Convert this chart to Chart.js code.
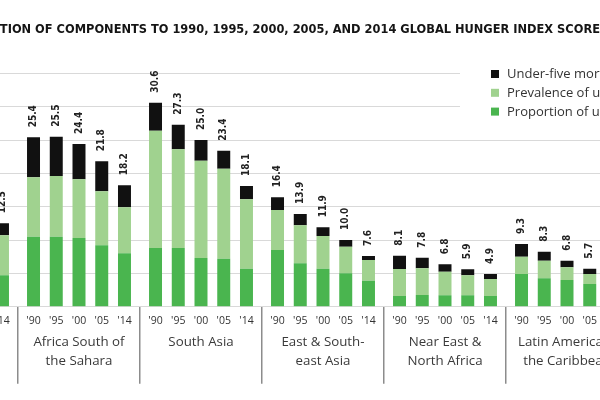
<!DOCTYPE html>
<html>
<head>
<meta charset="utf-8">
<script src="https://cdn.jsdelivr.net/npm/chart.js@4.4.1/dist/chart.umd.min.js"></script>
<style>
  html, body { margin: 0; padding: 0; background: #fff; }
  #frame { position: relative; width: 600px; height: 400px; overflow: hidden; }
  #wrap { position: absolute; top: 0; height: 400px; }
</style>
</head>
<body>
<div id="frame"><div id="wrap"><canvas id="chart"></canvas></div></div>
<script>
const regions = [
    ['Developing', 'world'],
    ['Africa South of', 'the Sahara'],
    ['South Asia'],
    ['East & South-', 'east Asia'],
    ['Near East &', 'North Africa'],
    ['Latin America &', 'the Caribbean']
];
const years = ["'90", "'95", "'00", "'05", "'14"];

// one row per region, one value per year ('90 ... '14)
const mortality = [
    [3.3, 3.0, 2.7, 2.4, 1.8],
    [6.0, 5.9, 5.3, 4.5, 3.3],
    [4.2, 3.7, 3.1, 2.7, 2.0],
    [1.9, 1.7, 1.3, 1.0, 0.6],
    [2.0, 1.6, 1.1, 0.9, 0.75],
    [1.9, 1.35, 1.0, 0.8, 0.6]
];
const underweight = [
    [9.3, 8.8, 8.1, 7.3, 6.0],
    [8.9, 9.1, 8.8, 8.1, 6.9],
    [17.6, 14.8, 14.6, 13.5, 10.4],
    [6.0, 5.7, 4.9, 4.0, 3.1],
    [4.05, 4.0, 3.55, 3.0, 2.55],
    [2.6, 2.65, 1.9, 1.5, 1.0]
];
const undernourished = [
    [8.0, 7.3, 6.4, 6.1, 4.7],
    [10.5, 10.5, 10.3, 9.2, 8.0],
    [8.8, 8.8, 7.3, 7.2, 5.7],
    [8.5, 6.5, 5.7, 5.0, 3.9],
    [1.6, 1.75, 1.7, 1.7, 1.6],
    [4.9, 4.25, 4.0, 3.4, 2.4]
];
// printed GHI scores above the bars
const scores = [
    [20.6, 19.1, 17.2, 15.8, 12.5],
    [25.4, 25.5, 24.4, 21.8, 18.2],
    [30.6, 27.3, 25.0, 23.4, 18.1],
    [16.4, 13.9, 11.9, 10.0, 7.6],
    [8.1, 7.8, 6.8, 5.9, 4.9],
    [9.3, 8.3, 6.8, 5.7, 4.0]
];

const components = [
    { label: 'Proportion of undernourished', values: undernourished, color: '#4ab54f' },
    { label: 'Prevalence of underweight in children', values: underweight, color: '#a0d28f' },
    { label: 'Under-five mortality rate', values: mortality, color: '#111111' }
];

const TITLE = 'FIGURE 2.2 CONTRIBUTION OF COMPONENTS TO 1990, 1995, 2000, 2005, AND 2014 GLOBAL HUNGER INDEX SCORES, BY REGION';
const TITLE_CUT = 'FIGURE 2.2 CONTRIBU';   // part of the title left of the crop
const TITLE_SIZE = 12.7;
const NARROW = '"DejaVu Sans Condensed", "DejaVu Sans", sans-serif';
const TEXT = '"Open Sans", "Noto Sans", sans-serif';

// the picture is a crop: the page shows the chart from inside its first group
const CHART_LEFT = -104;   // page x of the plot area's left edge
const CAT_WIDTH = 122;
const RIGHT_SPACE = 420;   // room so the full title is not squeezed

const measurer = document.createElement('canvas').getContext('2d');
measurer.font = 'bold ' + TITLE_SIZE + 'px ' + NARROW;
const cut = Math.round(measurer.measureText(TITLE_CUT).width);
const yAxisWidth = Math.max(cut + CHART_LEFT, 0);

const wrap = document.getElementById('wrap');
const cv = document.getElementById('chart');
const totalWidth = yAxisWidth + CAT_WIDTH * regions.length + RIGHT_SPACE;
const shift = CHART_LEFT - yAxisWidth;
wrap.style.left = shift + 'px';
wrap.style.width = totalWidth + 'px';
cv.width = totalWidth;
cv.height = 400;

const datasets = [];
years.forEach((yr, j) => {
    components.forEach((c, k) => {
        datasets.push({
            label: c.label,
            stack: yr,
            yearIndex: j,
            isTop: k === components.length - 1,
            data: c.values.map(row => row[j]),
            backgroundColor: c.color,
            borderWidth: 0
        });
    });
});

const px = x => x - shift;

const sideLegend = {
    id: 'sideLegend',
    beforeDatasetsDraw(chart) {
        const ctx = chart.ctx;
        ctx.save();
        ctx.fillStyle = '#ffffff';
        ctx.fillRect(px(460), 62, 300, 60);
        ctx.font = '13px ' + TEXT;
        ctx.textBaseline = 'middle';
        ctx.textAlign = 'left';
        components.slice().reverse().forEach((c, i) => {
            const y = 74 + i * 18.8;
            ctx.fillStyle = c.color;
            ctx.fillRect(px(491), y - 4, 8, 8);
            ctx.fillStyle = '#333333';
            ctx.fillText(c.label, px(507), y + 0.5);
        });
        ctx.restore();
    }
};

const barTexts = {
    id: 'barTexts',
    afterDatasetsDraw(chart) {
        const ctx = chart.ctx;
        const bottom = chart.chartArea.bottom;
        chart.data.datasets.forEach((ds, k) => {
            if (!ds.isTop) return;
            chart.getDatasetMeta(k).data.forEach((bar, i) => {
                ctx.save();
                ctx.font = 'bold 10px ' + NARROW;
                ctx.fillStyle = '#222222';
                ctx.textAlign = 'left';
                ctx.textBaseline = 'middle';
                ctx.translate(bar.x, bar.y - 10);
                ctx.rotate(-Math.PI / 2);
                ctx.fillText(scores[i][ds.yearIndex].toFixed(1), 0, 0);
                ctx.restore();

                ctx.save();
                ctx.font = '10.5px ' + TEXT;
                ctx.fillStyle = '#333333';
                ctx.textAlign = 'center';
                ctx.textBaseline = 'middle';
                ctx.fillText(years[ds.yearIndex], bar.x, bottom + 14);
                ctx.restore();
            });
        });
    }
};

new Chart(cv, {
    type: 'bar',
    data: {
        labels: regions,
        datasets: datasets
    },
    plugins: [sideLegend, barTexts],
    options: {
        responsive: false,
        animation: false,
        devicePixelRatio: 1,
        categoryPercentage: 0.932,
        barPercentage: 0.571,
        layout: { padding: 0 },
        plugins: {
            legend: { display: false },
            tooltip: { enabled: false },
            title: {
                display: true,
                text: TITLE,
                align: 'start',
                color: '#151515',
                font: { family: NARROW, size: TITLE_SIZE, weight: 'bold', lineHeight: 1.2 },
                padding: { top: 22.3, bottom: 35.8 }
            }
        },
        scales: {
            x: {
                stacked: true,
                grid: {
                    display: true,
                    drawOnChartArea: false,
                    offset: true,
                    tickLength: 77,
                    color: '#8c8c8c',
                    lineWidth: 1.5
                },
                border: { display: false },
                ticks: {
                    padding: -51,
                    color: '#3a3a3a',
                    maxRotation: 0,
                    autoSkip: false,
                    font: { family: TEXT, size: 13.3, lineHeight: 1.42 }
                },
                afterFit: s => { s.height = 93.3; }
            },
            y: {
                stacked: true,
                min: 0,
                max: 35,
                ticks: { display: false, stepSize: 5 },
                grid: { color: '#d9d9d9', drawTicks: false },
                border: { display: false },
                afterFit: s => { s.width = yAxisWidth; }
            },
            pad: {
                type: 'linear',
                position: 'right',
                grid: { display: false },
                ticks: { display: false },
                border: { display: false },
                afterFit: s => { s.width = RIGHT_SPACE; }
            }
        }
    }
});
</script>
</body>
</html>
